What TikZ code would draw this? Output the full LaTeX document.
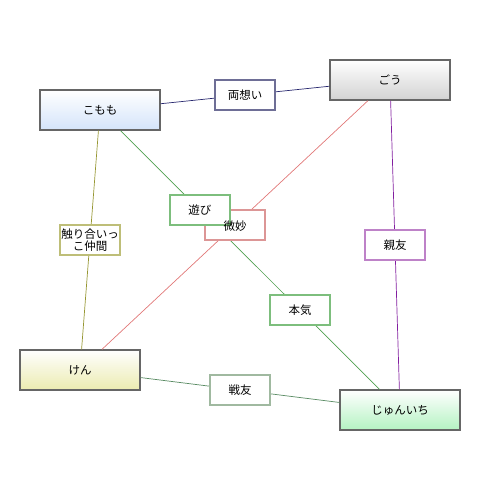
\documentclass[tikz,border=0pt]{standalone}
\usepackage{fontspec}
\setmainfont{Noto Sans CJK JP}
\usetikzlibrary{positioning, calc}

\definecolor{kblue}{HTML}{D4E4FA}
\definecolor{ggray}{HTML}{D2D2D2}
\definecolor{kyel}{HTML}{EBEBB0}
\definecolor{jgreen}{HTML}{B4F2C2}

\begin{document}
\begin{tikzpicture}[
  x=1pt, y=-1pt,
  person/.style={draw=black!60, line width=1.4pt, rectangle, minimum width=120pt, minimum height=40pt, inner sep=0pt, top color=white, font=\fontsize{11.5}{13}\selectfont},
  rel/.style={draw, line width=1.2pt, rectangle, fill=white, minimum width=60pt, minimum height=30pt, inner sep=1pt, align=center, font=\fontsize{11.5}{12.5}\selectfont},
  link/.style={-, line width=0.7pt}
]
\useasboundingbox (0,0) rectangle (490,477);

\node[person, bottom color=kblue] (komomo) at (100,110) {こもも};
\node[person, bottom color=ggray] (gou) at (390,80) {ごう};
\node[person, bottom color=kyel] (ken) at (80,370) {けん};
\node[person, bottom color=jgreen] (junichi) at (400,410) {じゅんいち};

\draw[link, color={rgb,255:red,40;green,40;blue,110}] (komomo) -- (gou);
\draw[link, color={rgb,255:red,225;green,120;blue,120}] (gou) -- (ken);
\draw[link, color={rgb,255:red,80;green,160;blue,80}] (komomo) -- (junichi);
\draw[link, color={rgb,255:red,150;green,150;blue,50}] (komomo) -- (ken);
\draw[link, color={rgb,255:red,130;green,30;blue,160}] (gou) -- (junichi);
\draw[link, color={rgb,255:red,90;green,140;blue,100}] (ken) -- (junichi);

\node[rel, draw={rgb,255:red,110;green,110;blue,150}] (ryoomoi) at ($(komomo)!0.5!(gou)$) {両想い};
\node[rel, draw={rgb,255:red,220;green,150;blue,150}] (bimyou) at ($(gou)!0.5!(ken)$) {};
\node[rel, draw={rgb,255:red,125;green,190;blue,125}] (asobi) at ($(komomo)!0.3333!(junichi)$) {遊び};
\node[font=\fontsize{11.5}{12.5}\selectfont, inner sep=0pt] at ([yshift=-1pt]bimyou.center) {微妙};
\node[rel, draw={rgb,255:red,125;green,190;blue,125}] (honki) at ($(komomo)!0.6667!(junichi)$) {本気};
\node[rel, draw={rgb,255:red,190;green,190;blue,120}, inner sep=0pt] (sawari) at ($(komomo)!0.5!(ken)$) {触り合いっ\\こ仲間};
\node[rel, draw={rgb,255:red,190;green,130;blue,200}] (shinyuu) at ($(gou)!0.5!(junichi)$) {親友};
\node[rel, draw={rgb,255:red,160;green,185;blue,160}] (senyuu) at ($(ken)!0.5!(junichi)$) {戦友};
\end{tikzpicture}
\end{document}
